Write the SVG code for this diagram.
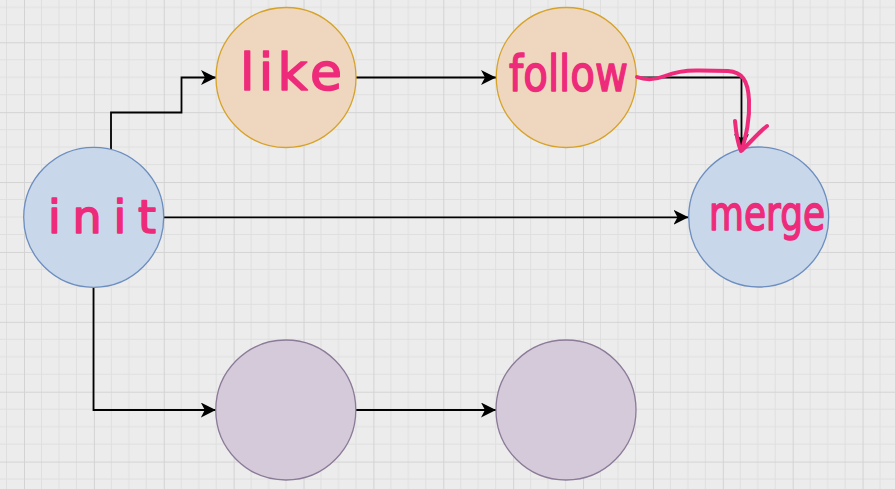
<svg xmlns="http://www.w3.org/2000/svg" width="895" height="489" viewBox="0 0 895 489">
  <defs>
    <pattern id="grid" x="24" y="42.3" width="69.88" height="69.88" patternUnits="userSpaceOnUse">
      <path d="M17.47,0 V69.88 M34.94,0 V69.88 M52.41,0 V69.88 M0,17.47 H69.88 M0,34.94 H69.88 M0,52.41 H69.88" stroke="#dfdfdf" stroke-width="1" fill="none"/>
      <path d="M0.5,0 V69.88 M0,0.5 H69.88" stroke="#d3d3d3" stroke-width="1" fill="none"/>
    </pattern>
    <marker id="arrow" markerUnits="userSpaceOnUse" markerWidth="16" markerHeight="16" refX="15" refY="7.5" orient="auto">
      <path d="M0,0 L15,7.5 L0,15 L4,7.5 Z" fill="#000"/>
    </marker>
    <style>
      .blue { fill: #c9d7ea; stroke: #6c8ebf; stroke-width: 1.3; }
      .orange { fill: #efd7bf; stroke: #d6a32a; stroke-width: 1.3; }
      .purple { fill: #d4cad9; stroke: #8b7a98; stroke-width: 1.3; }
      .edge { fill: none; stroke: #000; stroke-width: 1.8; marker-end: url(#arrow); }
      .hand { font-family: "DejaVu Sans", "Liberation Sans", sans-serif; fill: #ee2b7a; stroke: #ee2b7a; stroke-width: 1.6; stroke-linejoin: round; }
      .ink { fill: none; stroke: #ee2b7a; stroke-width: 4; stroke-linecap: round; stroke-linejoin: round; }
    </style>
  </defs>
  <rect width="895" height="489" fill="#ececec"/>
  <rect width="895" height="489" fill="url(#grid)"/>

  <g id="connectors">
    <path class="edge" d="M111,149 V112.5 H181.5 V77.5 H216"/>
    <path class="edge" d="M356,77.5 H496"/>
    <path class="edge" d="M636.5,77.5 H741.5 V149"/>
    <path class="edge" d="M163.7,217.3 H688.5"/>
    <path class="edge" d="M93.5,287.3 V410 H215.8"/>
    <path class="edge" d="M356,410 H496"/>
  </g>

  <g id="init">
    <circle class="blue" cx="93.7" cy="217.3" r="70"/>
    <text class="hand" x="48" y="233" font-size="46" textLength="108" lengthAdjust="spacing">init</text>
  </g>
  <g id="like">
    <circle class="orange" cx="286" cy="77.5" r="70"/>
    <text class="hand" x="240" y="90" font-size="52" textLength="102" lengthAdjust="spacing">like</text>
  </g>
  <g id="follow">
    <circle class="orange" cx="566.3" cy="77.5" r="70"/>
    <text class="hand" x="509" y="91" font-size="50" textLength="119" lengthAdjust="spacingAndGlyphs">follow</text>
  </g>
  <g id="merge">
    <circle class="blue" cx="758.7" cy="217" r="70"/>
    <text class="hand" x="709" y="230" font-size="48" textLength="116" lengthAdjust="spacingAndGlyphs">merge</text>
  </g>
  <g id="node5">
    <circle class="purple" cx="285.8" cy="410" r="70"/>
  </g>
  <g id="node6">
    <circle class="purple" cx="566" cy="410" r="70"/>
  </g>

  <g id="annotation">
    <path class="ink" d="M637,77 C645,80 655,80 665,76 C675,72 685,70 700,70.5 L728,71 C742,72 748,80 749,100 C750,120 746,135 742,150"/>
    <path class="ink" d="M735,121 C736,132 737,142 741,151 C748,145 758,133 767,126"/>
  </g>
</svg>
